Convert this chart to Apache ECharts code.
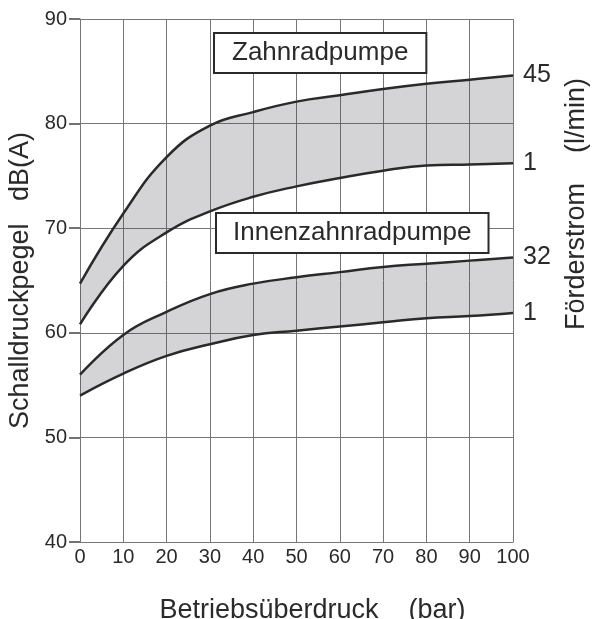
<!DOCTYPE html>
<html>
<head>
<meta charset="utf-8">
<script src="https://cdn.jsdelivr.net/npm/echarts@6/dist/echarts.min.js"></script>
<style>
  html, body { margin: 0; padding: 0; background: #fff; }
  #chart { width: 592px; height: 619px; }
</style>
</head>
<body>
<div id="chart"></div>
<script>
// Betriebsüberdruck (bar)
const pressure = ['0', '10', '20', '30', '40', '50', '60', '70', '80', '90', '100']
// Schalldruckpegel dB(A)
const zahn45 = [64.7, 71.4, 76.8, 79.8, 81.1, 82.1, 82.7, 83.3, 83.8, 84.2, 84.6]
const zahn1 = [60.8, 66.4, 69.6, 71.6, 73.0, 74.0, 74.8, 75.5, 76.0, 76.1, 76.2]
const innen32 = [56.0, 59.8, 62.0, 63.7, 64.7, 65.3, 65.8, 66.3, 66.6, 66.9, 67.2]
const innen1 = [54.0, 56.1, 57.8, 58.9, 59.8, 60.2, 60.6, 61.0, 61.4, 61.6, 61.9]
const yTicks = [40, 50, 60, 70, 80, 90]

const FONT = "'Liberation Sans', Arial, sans-serif"
const INK = '#2a2a2a'
const GRIDC = '#777'
const SMOOTH = 0.45

const chart = echarts.init(document.getElementById('chart'))

function curve(name, data) {
  return {
    name,
    type: 'line',
    data,
    smooth: SMOOTH,
    symbol: 'none',
    z: 5,
    lineStyle: { color: INK, width: 2.5 },
    endLabel: {
      show: true,
      formatter: name,
      distance: 10,
      fontFamily: FONT,
      fontSize: 25,
      color: INK,
    },
  }
}

function band(stack, lower, upper) {
  return [
    {
      type: 'line', stack, data: lower, smooth: SMOOTH, symbol: 'none',
      lineStyle: { opacity: 0 }, silent: true,
    },
    {
      type: 'line', stack, data: upper.map((v, i) => +(v - lower[i]).toFixed(2)),
      smooth: SMOOTH, symbol: 'none', silent: true,
      lineStyle: { opacity: 0 },
      areaStyle: { color: 'rgba(60,60,72,0.22)', opacity: 1 },
    },
  ]
}

chart.setOption({
  animation: false,
  backgroundColor: '#fff',
  textStyle: { fontFamily: FONT },
  grid: { left: 80, right: 79, top: 19, bottom: 77, outerBoundsMode: 'none', containLabel: false },
  xAxis: {
    type: 'category',
    data: pressure,
    boundaryGap: false,
    name: 'Betriebsüberdruck    (bar)',
    nameLocation: 'middle',
    nameGap: 55,
    nameTextStyle: { fontFamily: FONT, fontSize: 27, color: INK, padding: [0, 0, 0, 32] },
    axisLine: { lineStyle: { color: GRIDC, width: 1 } },
    axisTick: { show: false },
    axisLabel: { interval: 0, margin: 5, fontFamily: FONT, fontSize: 20, color: INK },
    splitLine: { show: true, lineStyle: { color: GRIDC, width: 1 } },
  },
  yAxis: {
    type: 'value',
    min: yTicks[0],
    max: yTicks[yTicks.length - 1],
    interval: 10,
    name: 'Schalldruckpegel   dB(A)',
    nameLocation: 'middle',
    nameGap: 37,
    nameRotate: 90,
    nameTextStyle: { fontFamily: FONT, fontSize: 27, color: INK },
    axisLine: { show: true, lineStyle: { color: GRIDC, width: 1 } },
    axisTick: { show: true, inside: false, length: 11, lineStyle: { color: '#444', width: 1.5 } },
    axisLabel: { margin: 13, fontFamily: FONT, fontSize: 20, color: INK },
    splitLine: { show: true, lineStyle: { color: GRIDC, width: 1 } },
  },
  graphic: [
    {
      type: 'text', left: 213, top: 32, z: 100,
      style: {
        text: 'Zahnradpumpe', font: '26px ' + FONT, fill: INK,
        backgroundColor: '#fff', borderColor: INK, borderWidth: 2, padding: [6, 17],
      },
    },
    {
      type: 'text', left: 215, top: 212, z: 100,
      style: {
        text: 'Innenzahnradpumpe', font: '26px ' + FONT, fill: INK,
        backgroundColor: '#fff', borderColor: INK, borderWidth: 2, padding: [6, 16],
      },
    },
    {
      type: 'text', x: 577, y: 204, rotation: Math.PI / 2, z: 100,
      style: {
        text: 'Förderstrom    (l/min)', font: '27px ' + FONT, fill: INK,
        align: 'center', verticalAlign: 'middle',
      },
    },
  ],
  series: [
    ...band('zahn', zahn1, zahn45),
    ...band('innen', innen1, innen32),
    curve('45', zahn45),
    curve('1', zahn1),
    curve('32', innen32),
    curve('1', innen1),
  ],
})

window.addEventListener('resize', () => chart.resize())
</script>
</body>
</html>
